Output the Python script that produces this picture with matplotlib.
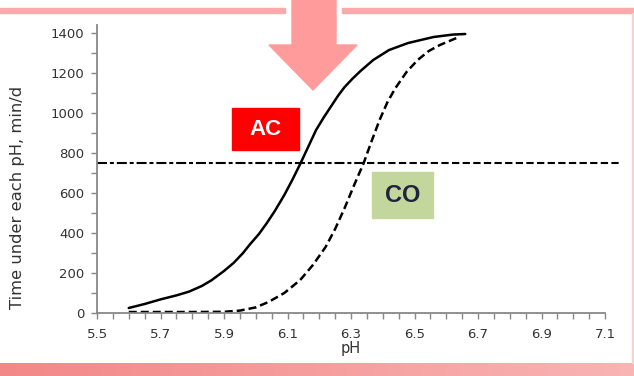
import numpy as np
import matplotlib.pyplot as plt
from matplotlib.patches import Rectangle, Polygon
from matplotlib.colors import LinearSegmentedColormap
from matplotlib.ticker import MultipleLocator

# pH 曲线数据
ph_ac = [5.60, 5.65, 5.70, 5.75, 5.79, 5.83, 5.86, 5.90, 5.93, 5.96, 5.98, 6.01,
         6.035, 6.06, 6.09, 6.115, 6.14, 6.165, 6.19, 6.215, 6.24, 6.26, 6.28,
         6.305, 6.33, 6.37, 6.42, 6.48, 6.56, 6.62, 6.66]
time_ac = [25, 45, 68, 88, 107, 135, 163, 210, 250, 300, 340, 395,
           450, 510, 590, 665, 745, 830, 915, 980, 1040, 1088, 1130,
           1172, 1210, 1265, 1315, 1350, 1380, 1392, 1395]

ph_co = [5.60, 5.80, 5.90, 5.95, 6.00, 6.04, 6.09, 6.14, 6.18, 6.22, 6.25, 6.28,
         6.31, 6.34, 6.365, 6.39, 6.415, 6.44, 6.475, 6.51, 6.545, 6.58, 6.64]
time_co = [5, 5, 6, 12, 28, 55, 100, 165, 240, 330, 420, 525,
           640, 750, 860, 965, 1055, 1125, 1205, 1265, 1310, 1340, 1380]

threshold = 750
x_ticks = [5.5, 5.7, 5.9, 6.1, 6.3, 6.5, 6.7, 6.9, 7.1]
y_ticks = [0, 200, 400, 600, 800, 1000, 1200, 1400]

W, H = 634, 376
fig = plt.figure(figsize=(W / 100, H / 100), dpi=100)
ax = fig.add_axes([97 / W, 1 - 313 / H, (605 - 97) / W, (313 - 25) / H])

ax.plot(ph_ac, time_ac, color='black', lw=1.8, solid_capstyle='round')
ax.plot(ph_co, time_co, color='black', lw=1.8, linestyle=(0, (3.2, 1.6)))

# 阈值线
ax.plot([5.5, 6.35], [threshold, threshold], color='black', lw=1.5,
        linestyle=(0, (4.8, 1.4, 1.9, 1.4)), clip_on=False)
ax.plot([6.35, 7.15], [threshold, threshold], color='black', lw=1.5,
        linestyle=(0, (3.5, 1.6)), clip_on=False)

ax.set_xlim(5.5, 7.1)
ax.set_ylim(0, 1440)
ax.set_xticks(x_ticks)
ax.set_yticks(y_ticks)
ax.xaxis.set_minor_locator(MultipleLocator(0.05))
ax.yaxis.set_minor_locator(MultipleLocator(100))
for s in ['top', 'right']:
    ax.spines[s].set_visible(False)
for s in ['left', 'bottom']:
    ax.spines[s].set_color('#888888')
    ax.spines[s].set_linewidth(1.3)
ax.tick_params(which='both', direction='out', color='#888888', width=1.0)
ax.tick_params(which='major', length=4, labelsize=9.5, labelcolor='#333333')
ax.tick_params(axis='x', which='major', pad=7)
ax.tick_params(axis='y', which='major', pad=5)
ax.tick_params(which='minor', length=4)
ax.set_xlabel('pH', fontsize=10.5, color='#333333', labelpad=0)
fig.text(18 / W, 1 - 197 / H, 'Time under each pH, min/d', rotation=90,
         fontsize=11.8, color='#333333', ha='center', va='center')

# 标签框
ax.add_patch(Rectangle((5.925, 815), 0.211, 210, color='#FF0000', zorder=5))
ax.text(6.03, 920, 'AC', color='white', fontsize=16, fontweight='bold',
        family='Liberation Sans', ha='center', va='center', zorder=6)
ax.add_patch(Rectangle((6.366, 475), 0.192, 230, color='#C3D69B', zorder=5))
ax.text(6.462, 590, 'CO', color='#1F2340', fontsize=17, fontweight='bold',
        family='Liberation Sans', ha='center', va='center', zorder=6)

# 幻灯片装饰：顶部粉线、箭头、底部色带
def fx(px):
    return px / W


def fy(py):
    return 1 - py / H


pink = '#F9AAAB'
fig.add_artist(Rectangle((0, fy(13)), fx(285), 5 / H, color=pink,
                         transform=fig.transFigure))
fig.add_artist(Rectangle((fx(342), fy(13)), 1 - fx(342), 5 / H, color=pink,
                         transform=fig.transFigure))
fig.add_artist(Rectangle((fx(632), fy(363)), 1.5 / W, 350 / H, color='#F6D3D3',
                         transform=fig.transFigure))
arrow = [(292, 0), (336, 0), (336, 45), (357, 45), (313, 90), (269, 45), (292, 45)]
fig.add_artist(Polygon([(fx(a), fy(b)) for a, b in arrow], closed=True,
                       color='#FF9B9B', transform=fig.transFigure, zorder=10))

band = fig.add_axes([0, 0, 1, 13 / H])
cmap = LinearSegmentedColormap.from_list('band', ['#F38888', '#F9B4B4'])
band.imshow(np.linspace(0, 1, 256).reshape(1, -1), aspect='auto', cmap=cmap)
band.axis('off')

fig.savefig('out.png', dpi=100)
